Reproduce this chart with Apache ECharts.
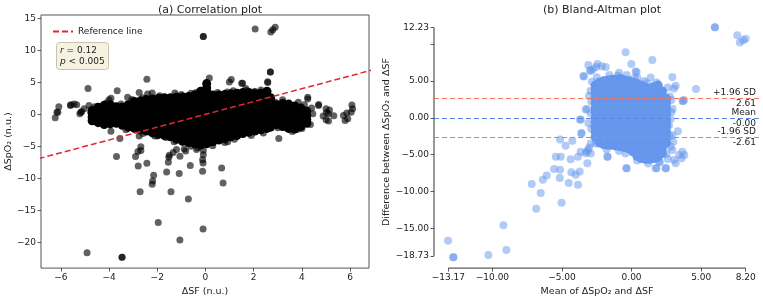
<!DOCTYPE html>
<html>
<head>
<meta charset="utf-8">
<script src="https://cdn.jsdelivr.net/npm/echarts@6/dist/echarts.min.js"></script>
<style>html,body{margin:0;padding:0;background:#fff;}#c{width:763px;height:302px;}</style>
</head>
<body>
<div id="c"></div>
<script>
// ---------- (a) Correlation plot data: [ΔSF, ΔSpO2] ----------
const corrOutliers = [
[-6.23,-0.54],[-6.12,0.34],[-6.08,1.2],[-6.16,0.34],[-5.6,1.36],[-5.59,1.51],[-5.45,1.62],[-5.34,1.5],[-5.21,0.08],[-5.13,0.43],[-5.17,0.33],[-5.03,0.85],
[-4.87,4.04],[-4.83,1.36],[-3.66,3.68],[-4.0,2.28],[-3.92,2.5],[-3.23,2.65],[-2.43,5.48],[-2.75,3.42],[-2.4,3.16],[-2.21,3.32],[-1.27,3.32],[-0.39,3.4],
[-0.09,12.16],[-0.09,12.16],[2.06,13.3],[2.71,12.84],[2.79,13.2],[2.89,13.6],[2.69,6.6],[2.69,6.6],[0.16,5.67],[0.99,5.06],[1.07,5.43],[1.5,4.86],[1.54,4.86],
[1.67,4.04],[2.58,4.96],[2.58,5.07],[2.08,3.47],[1.15,3.68],[2.03,3.58],[3.2,2.28],[4.24,2.39],[4.24,2.65],[3.85,1.88],[4.69,1.36],[4.69,1.52],
[4.88,-0.28],[5.02,0.28],[5.14,0.69],[5.0,0.85],[5.1,0.08],[5.1,-1.05],[5.0,-0.85],[5.32,-0.23],[5.72,-0.19],[5.86,0.19],[5.79,-0.96],[5.9,-0.7],
[6.07,1.47],[6.1,0.85],[6.04,0.34],[4.45,0.08],[3.69,-1.98],[3.41,-2.24],[3.04,-3.78],[3.83,-2.34],[1.43,-3.0],[0.92,-4.3],
[-3.92,-2.65],[-3.55,-3.78],[-2.75,-3.37],[-1.99,-3.37],[-1.64,-3.6],[-2.68,-5.07],
[-3.69,-6.58],[-2.9,-6.58],[-2.8,-5.8],[-2.68,-5.65],[-2.79,-8.05],[-2.43,-7.64],[-2.15,-9.5],[-2.19,-10.4],[-2.21,-10.9],[-2.71,-12.1],
[-1.96,-16.9],[-1.61,-9.0],[-1.54,-7.5],[-1.52,-6.7],[-1.5,-6.4],[-1.43,-12.1],[-1.34,-5.94],[-1.09,-9.23],[-1.06,-6.56],[-1.06,-19.6],
[-0.71,-13.2],[-0.63,-8.0],[-0.82,-5.74],[-0.88,-5.43],[-0.12,-7.1],[-0.1,-7.6],[-0.12,-8.9],[-0.09,-6.3],[-0.09,-5.6],[-0.32,-5.2],
[-0.1,-17.9],[0.67,-8.38],[0.73,-10.7],[-4.91,-21.6],[-3.46,-22.3],[-3.46,-22.3],[-0.37,-5.48],[-1.2,-5.5],
[-4.75,0.33],[-4.41,-1.21],[-4.6,1.2],[-4.1,1.8],[-3.5,1.6],[-3.05,2.3],[-2.6,2.6],[-1.9,2.9],[-1.0,3.1],[-0.6,3.3],[0.5,3.4],[0.9,3.5],
[1.7,3.7],[2.3,3.8],[-3.3,-2.4],[-2.6,-3.0],[-2.1,-3.4],[-1.3,-4.3],[-0.6,-5.0],[0.3,-4.9],[0.8,-4.4],[1.2,-3.9],[1.9,-3.3],[2.4,-2.9],
[3.0,-2.1],[3.6,-2.7],[4.0,-2.2],[4.35,-1.6],[4.4,1.0],[4.1,1.5],[2.9,1.9]
];
// dense cloud, read column by column: [ΔSF, [ΔSpO2 values]]
const corrCloud = [
[-4.7,[-1.0,-0.4,0.2,0.6]],
[-4.45,[-1.3,-0.7,-0.1,0.5,1.1]],
[-4.2,[-1.6,-0.9,-0.3,0.3,0.9,1.4]],
[-3.95,[-1.5,-0.8,-0.2,0.4,1.0,1.5]],
[-3.7,[-1.4,-0.7,-0.1,0.5,1.2]],
[-3.45,[-1.7,-1.0,-0.4,0.2,0.8,1.1]],
[-3.2,[-2.0,-1.3,-0.7,-0.1,0.5,1.0,1.5]],
[-2.95,[-2.2,-1.6,-0.9,-0.3,0.3,0.9,1.5,2.0]],
[-2.7,[-2.4,-1.7,-1.1,-0.5,0.1,0.7,1.3,1.8,2.1]],
[-2.45,[-2.6,-1.9,-1.3,-0.6,0.0,0.6,1.2,1.8,2.3]],
[-2.2,[-2.9,-2.2,-1.5,-0.9,-0.3,0.3,0.9,1.5,2.0,2.4]],
[-1.95,[-3.1,-2.4,-1.8,-1.1,-0.5,0.1,0.7,1.3,1.9,2.5]],
[-1.7,[-3.3,-2.6,-2.0,-1.3,-0.7,-0.1,0.5,1.1,1.7,2.2,2.6]],
[-1.45,[-3.5,-2.8,-2.1,-1.5,-0.9,-0.3,0.3,0.9,1.5,2.1,2.6]],
[-1.2,[-3.9,-3.2,-2.5,-1.9,-1.2,-0.6,0.0,0.6,1.2,1.8,2.3,2.7]],
[-0.95,[-4.2,-3.5,-2.8,-2.1,-1.5,-0.9,-0.3,0.3,0.9,1.5,2.1,2.7]],
[-0.7,[-4.4,-3.7,-3.0,-2.4,-1.7,-1.1,-0.5,0.1,0.7,1.3,1.9,2.4,2.8]],
[-0.45,[-4.6,-3.9,-3.2,-2.6,-1.9,-1.3,-0.7,-0.1,0.5,1.1,1.7,2.3,3.0]],
[-0.2,[-4.8,-4.1,-3.4,-2.7,-2.0,-1.4,-0.8,-0.2,0.4,1.0,1.6,2.2,2.8,3.3,3.6]],
[0.05,[-4.6,-3.9,-3.2,-2.6,-1.9,-1.3,-0.7,-0.1,0.5,1.1,1.7,2.3,2.9,3.5,4.1,4.8]],
[0.3,[-4.3,-3.6,-2.9,-2.3,-1.6,-1.0,-0.4,0.2,0.8,1.4,2.0,2.5,3.0]],
[0.55,[-4.0,-3.3,-2.6,-2.0,-1.4,-0.8,-0.2,0.4,1.0,1.6,2.2,2.7,3.0]],
[0.8,[-3.8,-3.1,-2.5,-1.8,-1.2,-0.6,0.0,0.6,1.2,1.8,2.4,3.1]],
[1.05,[-3.5,-2.8,-2.2,-1.6,-1.0,-0.4,0.2,0.8,1.4,2.0,2.6,3.2]],
[1.3,[-3.3,-2.7,-2.0,-1.4,-0.8,-0.2,0.4,1.0,1.6,2.2,2.8,3.3]],
[1.55,[-3.0,-2.4,-1.8,-1.2,-0.6,0.0,0.6,1.2,1.8,2.4,2.9,3.4]],
[1.8,[-2.8,-2.2,-1.6,-1.0,-0.4,0.2,0.8,1.4,2.0,2.6,3.1,3.4]],
[2.05,[-2.6,-2.0,-1.4,-0.8,-0.2,0.4,1.0,1.6,2.2,2.7,3.2]],
[2.3,[-2.4,-1.8,-1.2,-0.6,0.0,0.6,1.2,1.8,2.4,2.9,3.3]],
[2.55,[-2.2,-1.6,-1.0,-0.4,0.2,0.8,1.4,2.0,2.6,3.1,3.6]],
[2.7,[-2.0,-1.3,-0.7,-0.1,0.5,1.1,1.7,2.2,2.6]],
[2.95,[-1.6,-1.0,-0.4,0.2,0.8,1.5]],
[3.2,[-1.9,-1.2,-0.6,0.0,0.6,1.2,1.7]],
[3.45,[-2.2,-1.5,-0.9,-0.3,0.3,0.9,1.6]],
[3.7,[-2.3,-1.6,-1.0,-0.4,0.2,0.8,1.3]],
[3.95,[-1.9,-1.2,-0.6,0.0,0.6,1.0]],
[4.2,[-1.4,-0.8,-0.2,0.5]]
];
const refLineX = [-8, 8];          // reference line y = x
const corrXTicks = [-6,-4,-2,0,2,4,6];
const corrYTicks = [-20,-15,-10,-5,0,5,10,15];
const corrStats = {r: '0.12', p: '0.005'};

// ---------- (b) Bland-Altman data: [mean, difference] ----------
const baOutliers = [
[-0.43,8.9],[1.49,7.82],[-0.02,7.28],[-2.46,7.28],[-2.15,7.0],[-1.86,6.9],[-2.94,6.35],[-2.77,6.57],[-3.42,5.59],[-0.9,6.1],[-0.35,5.8],
[0.29,6.26],[0.41,5.45],[1.37,5.45],[0.9,5.0],[2.93,5.54],[3.17,4.33],[3.05,3.97],[2.21,3.44],[4.63,3.89],[3.77,2.41],[3.65,2.32],
[3.33,-1.83],[2.86,2.41],[2.95,1.2],[2.86,0.76],[2.69,-1.03],[2.93,-2.37],[3.0,-3.26],[2.81,-3.93],[2.93,-4.38],[3.65,-4.6],[3.41,-5.05],
[3.05,-5.72],[3.17,-6.17],[2.45,-6.84],[1.73,-6.84],[1.97,-5.94],[-0.38,-6.84],[-1.74,-5.27],[-0.43,-4.83],[-3.3,1.12],[-3.66,-0.27],
[-3.11,-0.71],[-3.61,-2.14],[-5.14,-2.95],[-4.74,-3.8],[-4.26,-3.13],[-5.45,-5.27],[-5.09,-5.27],[-4.38,-5.63],[-3.85,-5.27],[-3.66,-4.6],
[-3.23,-4.6],[-3.06,-4.07],[-2.94,-4.83],[-3.18,-6.17],[-5.57,-6.93],[-5.14,-7.06],[-4.33,-7.37],[-4.02,-7.73],[-3.73,-7.28],[-6.1,-7.82],
[-6.38,-8.4],[-5.16,-8.18],[-4.52,-8.85],[-3.85,-9.07],[-7.18,-8.98],[-6.53,-10.19],[-5.03,-11.53],[-6.85,-12.33],[-9.21,-14.57],
[-13.19,-16.67],[-12.81,-18.9],[-12.81,-18.9],[-10.29,-18.59],[-9.0,-17.92],[5.99,12.29],[5.99,12.29],[7.6,11.2],[7.78,10.2],[8.02,10.5],
[8.2,10.7],[3.71,2.24],[-3.47,5.67],[-2.99,6.43],[-3.11,7.15],[-2.55,6.9],[0.36,6.2],[-3.2,1.2],[-3.7,-0.22],[-3.6,-2.05],[-1.72,-5.27],
[-0.35,-6.84],[1.8,-6.84],[2.47,-6.84],[2.04,-6.03],[3.6,-5.5],[3.79,-5.05],[-3.06,3.0],[-2.94,3.66],[-3.3,-4.8],[-3.13,-4.38],
[-2.94,-3.49],[-2.51,-3.04],
[-2.85,4.9],[-2.5,5.5],[-1.6,5.8],[-1.0,5.7],[0.2,5.4],[1.1,4.7],[1.8,4.8],[2.6,4.1],[2.75,2.9],[2.8,-0.2],[2.75,-2.5],[2.5,-4.9],
[2.6,-5.6],[1.2,-6.2],[0.4,-5.8],[-0.9,-4.5],[-1.8,-4.3],[-2.6,-3.5],[-2.9,-1.5],[-2.95,0.6],[-2.9,2.2]
];
const baCloud = [
[-2.6,[-2.6,-1.9,-1.3,-0.6,0.0,0.7,1.3,2.0,2.6,3.3,3.9,4.4]],
[-2.3,[-3.4,-2.7,-2.1,-1.4,-0.8,-0.1,0.5,1.2,1.8,2.5,3.1,3.8,4.4,4.8]],
[-2.0,[-3.6,-2.9,-2.3,-1.6,-1.0,-0.3,0.3,1.0,1.6,2.3,2.9,3.6,4.2,5.0]],
[-1.7,[-3.7,-3.0,-2.4,-1.7,-1.1,-0.4,0.2,0.9,1.5,2.2,2.8,3.5,4.1,4.7,5.1]],
[-1.4,[-3.7,-3.1,-2.4,-1.8,-1.1,-0.5,0.2,0.8,1.5,2.1,2.8,3.4,4.1,4.7,5.2]],
[-1.1,[-3.8,-3.1,-2.5,-1.8,-1.2,-0.5,0.1,0.8,1.4,2.1,2.7,3.4,4.0,4.6,5.2]],
[-0.8,[-3.9,-3.2,-2.6,-1.9,-1.3,-0.6,0.0,0.7,1.3,2.0,2.6,3.3,3.9,4.6,5.3]],
[-0.5,[-4.0,-3.3,-2.7,-2.0,-1.4,-0.7,-0.1,0.6,1.2,1.9,2.5,3.2,3.8,4.5,5.1]],
[-0.2,[-4.2,-3.5,-2.9,-2.2,-1.6,-0.9,-0.3,0.4,1.0,1.7,2.3,3.0,3.6,4.3,5.0]],
[0.1,[-4.6,-3.9,-3.3,-2.6,-2.0,-1.3,-0.7,0.0,0.6,1.3,1.9,2.6,3.2,3.9,4.4,4.8]],
[0.4,[-5.2,-4.5,-3.9,-3.2,-2.6,-1.9,-1.3,-0.6,0.0,0.7,1.3,2.0,2.6,3.3,3.9,4.6]],
[0.7,[-5.5,-4.8,-4.2,-3.5,-2.9,-2.2,-1.6,-0.9,-0.3,0.4,1.0,1.7,2.3,3.0,3.6,4.4]],
[1.0,[-5.6,-4.9,-4.3,-3.6,-3.0,-2.3,-1.7,-1.0,-0.4,0.3,0.9,1.6,2.2,2.9,3.5,4.1]],
[1.3,[-5.6,-5.0,-4.3,-3.7,-3.0,-2.4,-1.7,-1.1,-0.4,0.2,0.9,1.5,2.2,2.8,3.5,4.0]],
[1.6,[-5.5,-4.8,-4.2,-3.5,-2.9,-2.2,-1.6,-0.9,-0.3,0.4,1.0,1.7,2.3,3.0,3.6,4.2]],
[1.9,[-5.3,-4.6,-4.0,-3.3,-2.7,-2.0,-1.4,-0.7,-0.1,0.6,1.2,1.9,2.5,3.2,3.8,4.4]],
[2.2,[-4.8,-4.1,-3.5,-2.8,-2.2,-1.5,-0.9,-0.2,0.4,1.1,1.7,2.4,3.0,3.6]],
[2.5,[-3.4,-2.6,-1.9,-1.1,-0.3,0.5,1.2,2.0,2.6]]
];
const baLimitValues = [2.61, -0.00, -2.61];
const baLimitNames  = ['+1.96 SD', 'Mean', '-1.96 SD'];
const baLimitTexts  = ['2.61', '-0.00', '-2.61'];
const baXTicks = [-13.17,-10,-5,0,5,8.2];
const baYTicks = [-18.73,-15,-10,-5,0,5,10,12.23];
const baYLabels = [-18.73,-15,-10,-5,0,5,12.23];

// ---------- build ----------
const flatten = cloud => cloud.flatMap(([x, ys]) => ys.map(y => [x, y]));
const FONT = 'DejaVu Sans';
const TXT = '#222';
const intFmt = v => (v < 0 ? '\u2212' + Math.abs(v) : String(v));
const decFmt = v => (v < 0 ? '\u2212' + Math.abs(v).toFixed(2) : v.toFixed(2));

const corrX = {min: -6.82, max: 6.78}, corrY = {min: -24.0, max: 15.5};
const baX = {min: -14.2, max: 9.23}, baY = {min: -20.38, max: 13.8};

function axis(grid, rng, ticks, labels, fmt, name, gap) {
  return {
    gridIndex: grid, type: 'value', min: rng.min, max: rng.max,
    axisLine: {show: false, onZero: false},
    splitLine: {show: false},
    axisTick: {show: true, customValues: ticks, length: 3.5, lineStyle: {color: '#333', width: 0.8}},
    axisLabel: {customValues: labels, formatter: fmt, fontSize: 9, color: TXT, fontFamily: FONT, margin: 5},
    name: name, nameLocation: 'middle', nameGap: gap,
    nameTextStyle: {fontSize: 9.5, color: TXT, fontFamily: FONT}
  };
}

const limitColors = ['#f27a5c', '#5b88e6', '#f27a5c'];
const markData = [];
baLimitValues.forEach((v, i) => {
  const ls = {color: limitColors[i], type: [5, 3], width: 1.2};
  markData.push({yAxis: v, lineStyle: ls, label: {show: true, formatter: baLimitNames[i], position: 'insideEndTop', distance: [4, 1], color: TXT, fontSize: 9, fontFamily: FONT}});
  markData.push({yAxis: v, lineStyle: ls, label: {show: true, formatter: baLimitTexts[i], position: 'insideEndBottom', distance: [4, 1], color: TXT, fontSize: 9, fontFamily: FONT}});
});

const solid = c => ({color: c, opacity: 1, borderWidth: 0, borderColor: c, shadowBlur: 0});
const option = {
  animation: false,
  textStyle: {fontFamily: FONT},
  title: [
    {text: '(a) Correlation plot', left: 205, top: 0, textAlign: 'center', textStyle: {fontSize: 11, fontWeight: 'normal', color: TXT, fontFamily: FONT}},
    {text: '(b) Bland-Altman plot', left: 597, top: 0, textAlign: 'center', textStyle: {fontSize: 11, fontWeight: 'normal', color: TXT, fontFamily: FONT}},
    {text: '{i|r} = ' + corrStats.r + '\n{i|p} < ' + corrStats.p, left: 56, top: 42,
     padding: [3, 4], backgroundColor: '#f7f1e2', borderColor: '#c9c2b0', borderWidth: 1, borderRadius: 3,
     textStyle: {fontSize: 9, fontWeight: 'normal', color: TXT, fontFamily: FONT, lineHeight: 11,
       rich: {i: {fontStyle: 'italic', fontSize: 9, color: TXT, fontFamily: FONT, lineHeight: 11}}}}
  ],
  legend: {data: ['Reference line'], left: 47, top: 22, itemWidth: 20, itemHeight: 8, itemGap: 6,
    itemStyle: {opacity: 0},
    textStyle: {fontSize: 9, color: TXT, fontFamily: FONT}},
  grid: [
    {left: 41, top: 15, width: 328, height: 256, show: true, borderColor: '#555', borderWidth: 1, backgroundColor: 'rgba(0,0,0,0)'},
    {left: 434, top: 16, width: 326, height: 255}
  ],
  xAxis: [
    axis(0, corrX, corrXTicks, corrXTicks, intFmt, 'ΔSF (n.u.)', 17),
    axis(1, baX, baXTicks, baXTicks, decFmt, 'Mean of ΔSpO₂ and ΔSF', 17)
  ],
  yAxis: [
    axis(0, corrY, corrYTicks, corrYTicks, intFmt, 'ΔSpO₂ (n.u.)', 20),
    axis(1, baY, baYTicks, baYLabels, decFmt, 'Difference between ΔSpO₂ and ΔSF', 36)
  ],
  series: [
    {type: 'scatter', xAxisIndex: 0, yAxisIndex: 0, data: flatten(corrCloud), symbolSize: 9, silent: true,
     itemStyle: solid('#000')},
    {type: 'scatter', xAxisIndex: 0, yAxisIndex: 0, data: corrOutliers, symbolSize: 7, silent: true,
     itemStyle: {color: '#000', opacity: 0.62, borderWidth: 0}},
    {name: 'Reference line', type: 'line', xAxisIndex: 0, yAxisIndex: 0, data: refLineX.map(v => [v, v]),
     symbol: 'none', silent: true, lineStyle: {color: '#e0282e', type: [6, 3], width: 1.5}, itemStyle: {color: '#e0282e'}},
    {type: 'scatter', xAxisIndex: 1, yAxisIndex: 1, data: flatten(baCloud), symbolSize: 9.5, silent: true,
     itemStyle: solid('#6797ec')},
    {type: 'scatter', xAxisIndex: 1, yAxisIndex: 1, data: baOutliers, symbolSize: 8, silent: true,
     itemStyle: {color: '#6495ED', opacity: 0.5, borderWidth: 0},
     markLine: {silent: true, symbol: 'none', animation: false, data: markData}},
    {type: 'line', xAxisIndex: 1, yAxisIndex: 1, clip: false, symbol: 'none', silent: true,
     data: [[baX.min, baYTicks[0]], [baX.min, baYTicks[baYTicks.length - 1]]], lineStyle: {color: '#333', width: 1}},
    {type: 'line', xAxisIndex: 1, yAxisIndex: 1, clip: false, symbol: 'none', silent: true,
     data: [[baXTicks[0], baY.min], [baXTicks[baXTicks.length - 1], baY.min]], lineStyle: {color: '#333', width: 1}}
  ]
};
const chart = echarts.init(document.getElementById('c'), null, {renderer: 'canvas'});
chart.setOption(option);
</script>
</body>
</html>
